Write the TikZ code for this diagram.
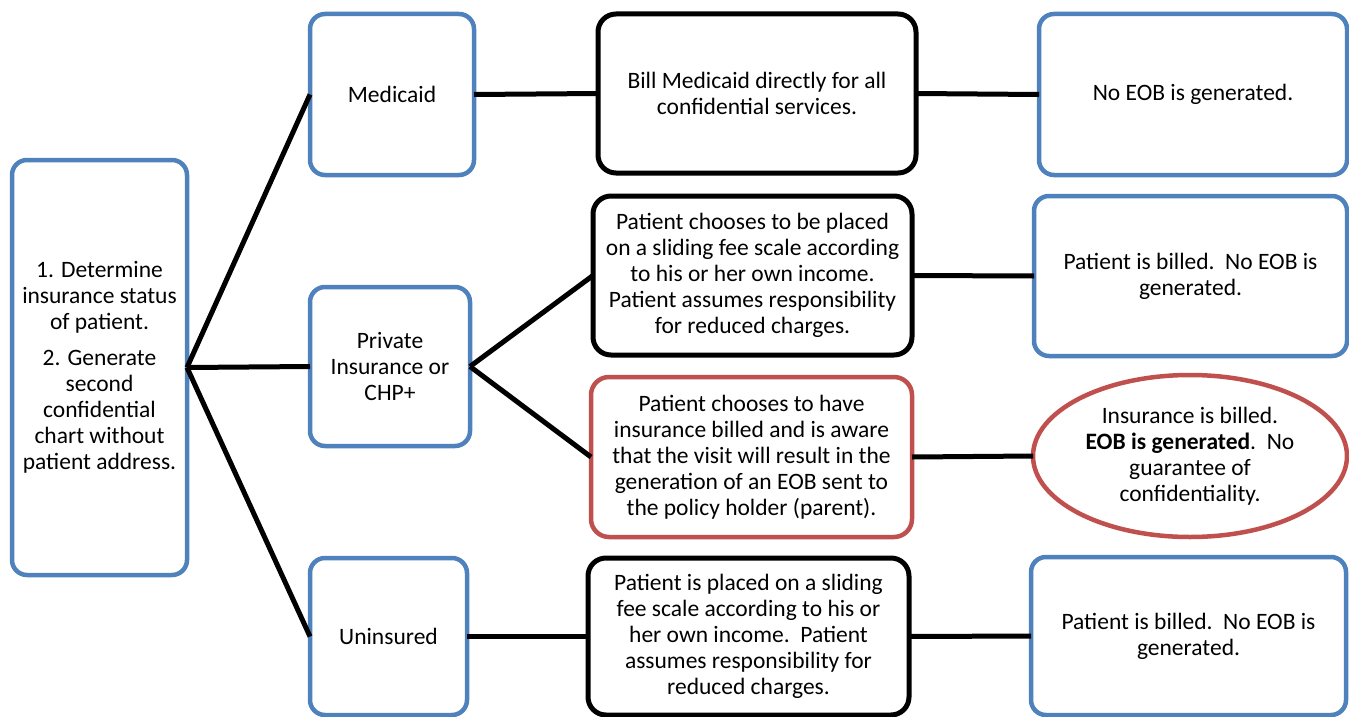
\documentclass[tikz,border=0pt]{standalone}
\usepackage{fontspec}
\setmainfont{Carlito}
\usetikzlibrary{shapes.geometric}
\definecolor{boxblue}{HTML}{4F81BD}
\definecolor{boxred}{HTML}{C0504D}
\tikzset{
  base/.style={rounded corners=15pt, fill=white, align=center, outer sep=0pt, inner sep=2pt,
    font=\fontsize{23.5}{26}\selectfont},
  bluebox/.style={base, draw=boxblue, line width=4.5pt},
  blackbox/.style={base, draw=black, line width=5pt, rounded corners=18pt},
  redbox/.style={base, draw=boxred, line width=4.5pt, rounded corners=18pt},
  conn/.style={line width=5pt, black},
}
\begin{document}
\begin{tikzpicture}[x=1pt,y=-1pt]
\useasboundingbox (0,0) rectangle (1349,717);
% column 1
\node[bluebox, minimum width=175pt, minimum height=415pt] (L) at (99.5,367.5)
  {1. Determine\\ insurance status\\ of patient.\\[10pt] 2. Generate\\ second\\ confidential\\ chart without\\ patient address.};
% column 2
\node[bluebox, minimum width=164pt, minimum height=161pt] (med) at (392,94.5) {Medicaid};
\node[bluebox, minimum width=160pt, minimum height=159pt] (priv) at (390,366.5) {Private\\ Insurance or\\ CHP+};
\node[bluebox, minimum width=157pt, minimum height=157pt] (unins) at (388.5,636.5) {Uninsured};
% column 3
\node[blackbox, minimum width=318pt, minimum height=159pt] (bill) at (757,93.5)
  {Bill Medicaid directly for all\\ confidential services.};
\node[blackbox, minimum width=319pt, minimum height=159pt] (slide1) at (752.5,275.5)
  {Patient chooses to be placed\\ on a sliding fee scale according\\ to his or her own income.\\ Patient assumes responsibility\\ for reduced charges.};
\node[redbox, minimum width=321pt, minimum height=160pt] (ins) at (751.5,457)
  {Patient chooses to have\\ insurance billed and is aware\\ that the visit will result in the\\ generation of an EOB sent to\\ the policy holder (parent).};
\node[blackbox, minimum width=321pt, minimum height=157pt] (slide2) at (748.5,636.5)
  {Patient is placed on a sliding\\ fee scale according to his or\\ her own income.\ \ Patient\\ assumes responsibility for\\ reduced charges.};
% column 4
\node[bluebox, minimum width=308pt, minimum height=161pt] (noeob) at (1193,94.5) {No EOB is generated.};
\node[bluebox, minimum width=313pt, minimum height=160pt] (billed1) at (1190.5,276)
  {Patient is billed.\ \ No EOB is\\ generated.};
\node[ellipse, draw=boxred, line width=4.5pt, fill=white, align=center, outer sep=0pt, inner sep=0pt,
  font=\fontsize{23.5}{26}\selectfont, minimum width=314pt, minimum height=162pt] (eob) at (1190,456)
  {Insurance is billed.\\ \textbf{EOB is generated}.\ \ No\\ guarantee of\\ confidentiality.};
\node[bluebox, minimum width=315pt, minimum height=158pt] (billed2) at (1188.5,636)
  {Patient is billed.\ \ No EOB is\\ generated.};
% connectors
\draw[conn] (L.east) -- (med.west);
\draw[conn] (L.east) -- (priv.west);
\draw[conn] (L.east) -- (unins.west);
\draw[conn] (med.east) -- (bill.west);
\draw[conn] (priv.east) -- (slide1.west);
\draw[conn] (priv.east) -- (ins.west);
\draw[conn] (unins.east) -- (slide2.west);
\draw[conn] (bill.east) -- (noeob.west);
\draw[conn] (slide1.east) -- (billed1.west);
\draw[conn] (ins.east) -- (eob.west);
\draw[conn] (slide2.east) -- (billed2.west);
\end{tikzpicture}
\end{document}
